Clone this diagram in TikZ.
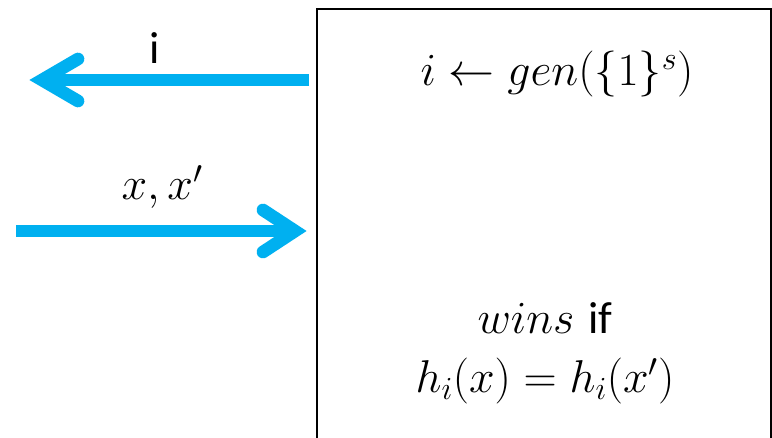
\RequirePackage{fix-cm}
\documentclass[tikz,border=0pt]{standalone}
\usepackage{fontspec}
\newfontfamily\calib{Carlito}
\definecolor{arrblue}{HTML}{00B0F0}
\begin{document}
\begin{tikzpicture}[x=1pt,y=-1pt,
  shaft/.style={draw=arrblue,line width=12.7pt,line cap=butt},
  barb/.style={draw=arrblue,line width=12.7pt,line cap=round,line join=miter},
  mathtxt/.style={inner sep=0pt,anchor=base,font=\fontsize{46}{54}\selectfont},
  sanstxt/.style={inner sep=0pt,anchor=base,font=\calib\fontsize{45}{54}\selectfont}]
\useasboundingbox (0,0) rectangle (772,438);
\clip (0,0) rectangle (772,438);
\fill[white] (0,0) rectangle (772,438);
% challenger box
\node[draw=black,line width=1.8pt,anchor=north west,minimum width=454pt,minimum height=460pt,inner sep=0pt] (box) at (316,8) {};
% box texts
\node[mathtxt] (gen) at (557,86) {$i \leftarrow gen(\{1\}^{s})$};
\node[mathtxt] (wins) at (545,334) {$wins$ {\calib\fontsize{45}{54}\selectfont if}};
\node[mathtxt] (eq) at (545,393) {$h_i(x) = h_i(x')$};
% arrow out: i
\coordinate (o1) at (309,80);
\coordinate (t1) at (42,80);
\draw[shaft] (o1) -- (t1);
\draw[barb] (78,59) -- (t1) -- (78,101);
\node[sanstxt] (ilab) at (155,64) {i};
% arrow in: x, x'
\coordinate (s2) at (16,231);
\coordinate (t2) at (295,231);
\draw[shaft] (s2) -- (t2);
\draw[barb] (263,210) -- (t2) -- (263,252);
\node[mathtxt] (xlab) at (162,200) {$x, x'$};
\end{tikzpicture}
\end{document}
